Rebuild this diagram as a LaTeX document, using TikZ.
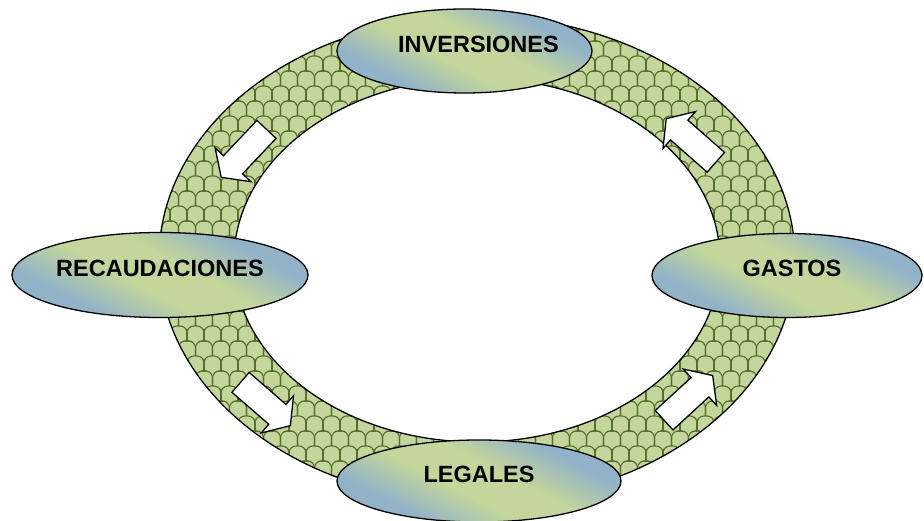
\documentclass[tikz,border=0pt]{standalone}
\usepackage{fontspec}
\setmainfont{Liberation Sans}
\usetikzlibrary{shapes.geometric,shapes.arrows,patterns.meta}

\definecolor{verdeclaro}{RGB}{195,214,155}
\definecolor{verdeosc}{RGB}{88,110,45}
\definecolor{azulgris}{RGB}{146,178,200}

% relleno de las elipses: azul en las puntas, verde al medio
\pgfdeclarehorizontalshading{brillo}{100bp}{color(0bp)=(azulgris); color(30bp)=(azulgris);
  color(44bp)=(verdeclaro); color(56bp)=(verdeclaro); color(70bp)=(azulgris); color(100bp)=(azulgris)}

% tejas del anillo
\tikzdeclarepattern{
  name=tejas,
  type=uncolored,
  bottom left={(-1pt,-1pt)},
  top right={(18pt,31pt)},
  tile size={(17pt,30pt)},
  code={
    \foreach \xx/\yy in {-17/0, 0/0, 17/0, -17/30, 0/30, 17/30, -8.5/15, 8.5/15, -8.5/-15, 8.5/-15}
      \draw[line width=1.1pt] (\xx pt,\yy pt) -- ++(0pt,8pt) arc[start angle=180, end angle=90, radius=7pt]
        -- ++(3pt,0pt) arc[start angle=90, end angle=0, radius=7pt] -- ++(0pt,-8pt);
  }
}

\begin{document}
\begin{tikzpicture}[x=1pt, y=-1pt,
	nodo/.style={ellipse, draw, line width=1.3pt, inner sep=0pt, shade, shading=brillo,
		shading angle=62, font=\bfseries\fontsize{23.5}{28}\selectfont, text depth=14pt},
	flecha/.style={single arrow, draw, fill=white, line width=1.3pt, inner xsep=0pt,
		inner ysep=12.5pt, minimum height=66pt, single arrow head extend=11.5pt,
		single arrow tip angle=110}]
	\useasboundingbox (0,0) rectangle (924,521);
	% anillo
	\fill [verdeclaro, even odd rule] (477,259) ellipse [x radius=318, y radius=243]
		(477,260) ellipse [x radius=243, y radius=182];
	\fill [pattern=tejas, pattern color=verdeosc, even odd rule] (477,259) ellipse [x radius=318, y radius=243]
		(477,260) ellipse [x radius=243, y radius=182];
	\draw [line width=1.3pt] (477,259) ellipse [x radius=318, y radius=243];
	\draw [line width=1.3pt] (477,260) ellipse [x radius=243, y radius=182];
	% flechas
	\node [flecha, rotate=226.6] (f1) at (247,150) {};
	\node [flecha, rotate=319] (f2) at (262,401) {};
	\node [flecha, rotate=42.6] (f3) at (685,401) {};
	\node [flecha, rotate=138.7] (f4) at (694.5,143.5) {};
	% elipses
	\node [nodo, minimum width=255pt, minimum height=84pt] (inv) at (464.5,51) {\hspace*{14pt}INVERSIONES\hspace*{-14pt}};
	\node [nodo, minimum width=296pt, minimum height=85pt] (rec) at (160,275) {RECAUDACIONES};
	\node [nodo, minimum width=270pt, minimum height=84pt] (gas) at (787,275.5) {\hspace*{5pt}GASTOS\hspace*{-5pt}};
	\node [nodo, minimum width=284pt, minimum height=82pt] (leg) at (479,481) {LEGALES};
\end{tikzpicture}
\end{document}
